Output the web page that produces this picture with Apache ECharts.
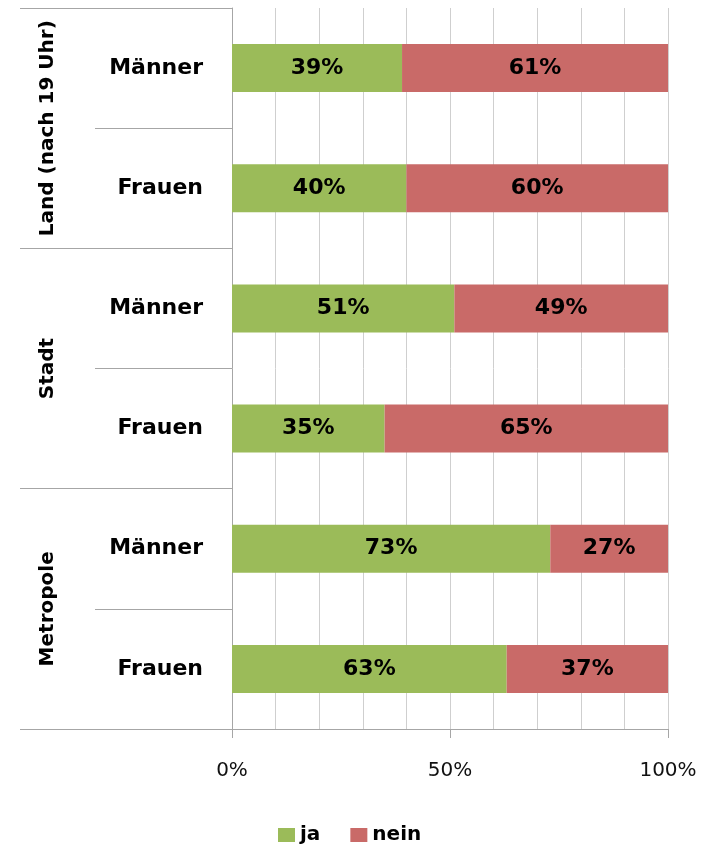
<!DOCTYPE html>
<html>
<head>
<meta charset="utf-8">
<script src="https://cdn.jsdelivr.net/npm/echarts@6/dist/echarts.min.js"></script>
<style>
  html, body { margin: 0; padding: 0; background: #fff; }
  #chart { width: 702px; height: 847px; }
</style>
</head>
<body>
<div id="chart"></div>
<script>
const categories = ['Männer', 'Frauen', 'Männer', 'Frauen', 'Männer', 'Frauen'];
const groups = ['Land (nach 19 Uhr)', 'Stadt', 'Metropole'];
const jaValues = [39, 40, 51, 35, 73, 63];
const neinValues = [61, 60, 49, 65, 27, 37];
const tickLabels = ['0%', '50%', '100%'];

const FONT = 'DejaVu Sans';
const lineColor = '#a6a6a6';

const chart = echarts.init(document.getElementById('chart'));

const barLabel = {
  show: true,
  position: 'inside',
  color: '#000',
  fontFamily: FONT,
  fontWeight: 'bold',
  fontSize: 22,
  formatter: p => p.value + '%'
};

chart.setOption({
  animation: false,
  textStyle: { fontFamily: FONT },
  grid: { left: 232, right: 34, top: 8, bottom: 118 },
  legend: {
    left: 273,
    top: 820,
    itemWidth: 17,
    itemHeight: 14,
    itemGap: 30,
    icon: 'rect',
    textStyle: { fontFamily: FONT, fontWeight: 'bold', fontSize: 20, color: '#000' },
    data: ['ja', 'nein']
  },
  xAxis: [
    {
      type: 'value',
      min: 0,
      max: 100,
      interval: 10,
      axisLine: { show: false },
      axisTick: { show: false },
      axisLabel: { show: false },
      splitLine: { show: true, lineStyle: { color: '#cfcfcf', width: 1 } }
    },
    {
      type: 'value',
      position: 'bottom',
      min: 0,
      max: 100,
      interval: 50,
      axisLine: { show: true, lineStyle: { color: lineColor } },
      axisTick: { show: true, length: 9, lineStyle: { color: lineColor } },
      axisLabel: {
        margin: 32,
        fontSize: 20,
        color: '#111',
        formatter: v => tickLabels[v / 50]
      },
      splitLine: { show: false }
    }
  ],
  yAxis: [
    {
      type: 'category',
      inverse: true,
      data: categories,
      axisLine: { show: true, lineStyle: { color: lineColor } },
      axisTick: { show: true, length: 137, lineStyle: { color: lineColor } },
      axisLabel: {
        interval: 0,
        margin: 29,
        fontSize: 22,
        fontWeight: 'bold',
        color: '#000'
      }
    },
    {
      type: 'category',
      inverse: true,
      position: 'left',
      data: groups,
      axisLine: { show: false },
      axisTick: { show: true, length: 212, lineStyle: { color: lineColor } },
      axisLabel: {
        interval: 0,
        rotate: 90,
        margin: 174,
        fontSize: 20,
        fontWeight: 'bold',
        color: '#000'
      }
    }
  ],
  series: [
    {
      name: 'ja',
      type: 'bar',
      stack: 'total',
      barWidth: 48,
      itemStyle: { color: '#9bbb59' },
      label: barLabel,
      data: jaValues
    },
    {
      name: 'nein',
      type: 'bar',
      stack: 'total',
      barWidth: 48,
      itemStyle: { color: '#c96a68' },
      label: barLabel,
      data: neinValues
    }
  ]
});
</script>
</body>
</html>
